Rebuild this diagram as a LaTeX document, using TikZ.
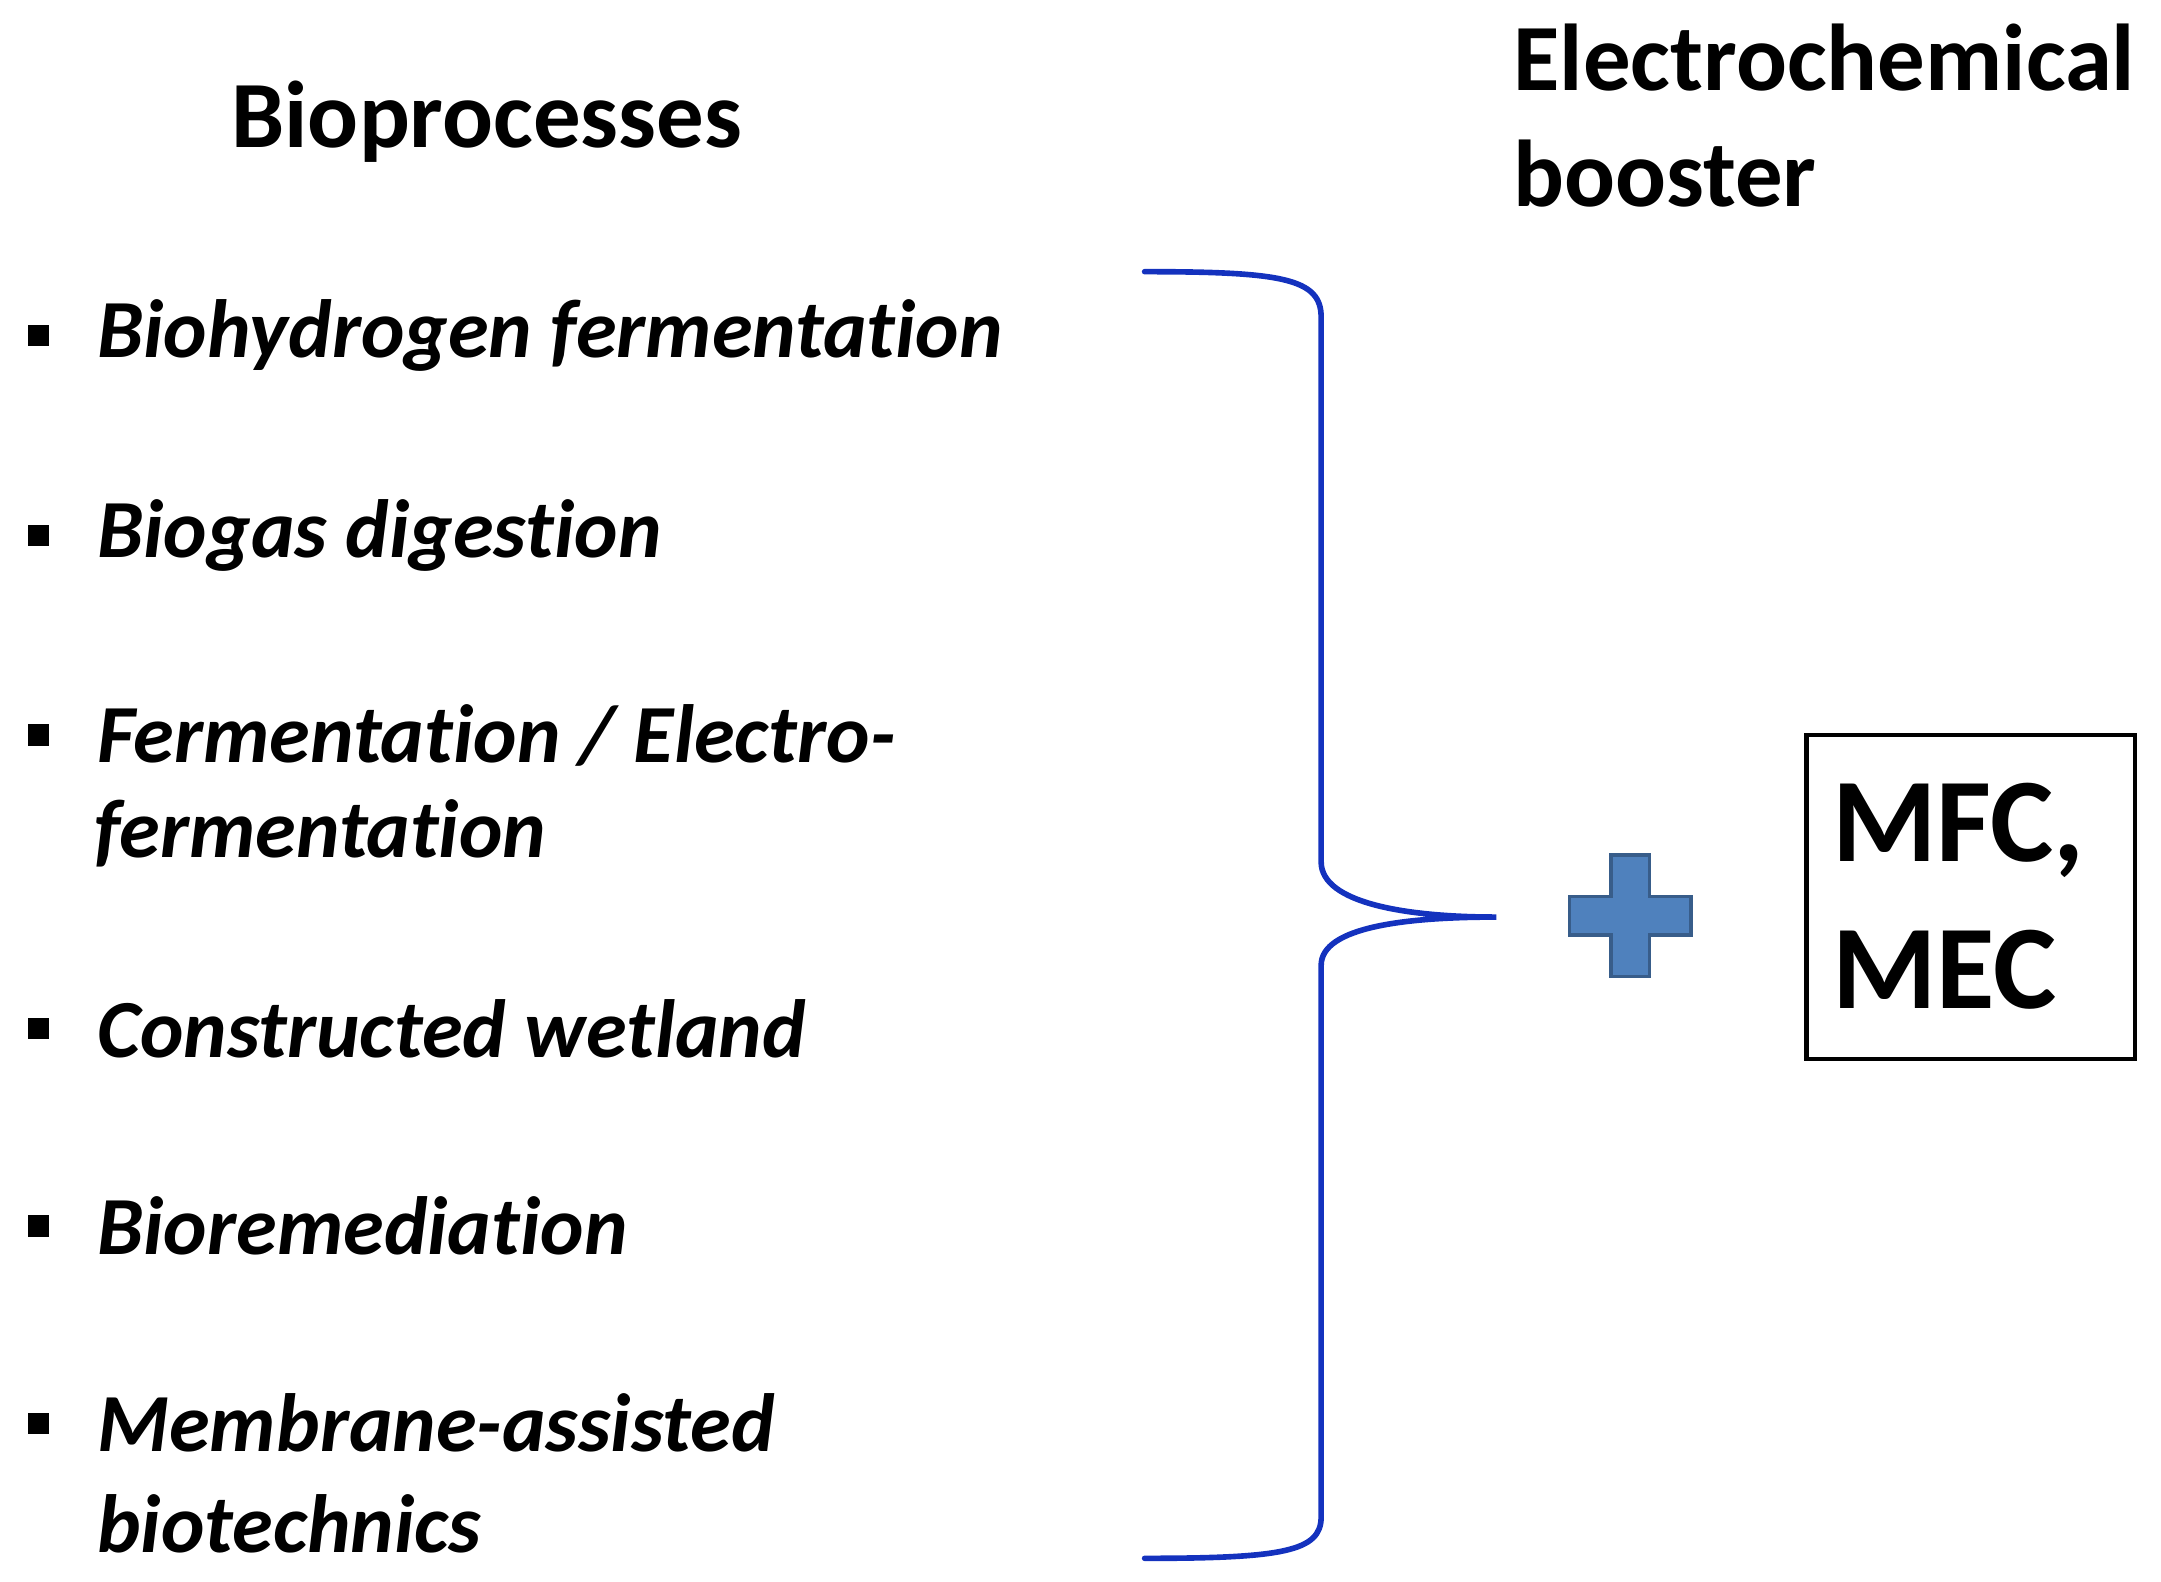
\documentclass[tikz,border=0pt]{standalone}
\usepackage{fontspec}
\setmainfont{Carlito}[Ligatures=NoCommon]
\usetikzlibrary{positioning}
\definecolor{braceblue}{RGB}{20,50,190}
\definecolor{plusblue}{RGB}{79,129,189}
\definecolor{plusedge}{RGB}{56,93,138}
\tikzset{
  item/.style={anchor=west, inner sep=0pt, font=\fontsize{23.5}{28}\selectfont\bfseries\itshape, align=left},
  bullet/.style={fill=black, minimum size=6pt, inner sep=0pt},
  title/.style={inner sep=0pt, font=\fontsize{27}{33}\selectfont\bfseries, align=left}
}
\begin{document}
\begin{tikzpicture}[x=1.379cm, y=-1.379cm, line cap=round]
		\useasboundingbox (0,0) rectangle (15.67,11.465);
		
		% Titles
		\node[title] (bio) at (3.53,0.88) {Bioprocesses};
		\node[title, anchor=west] (ec) at (10.97,0.84) {Electrochemical\\booster};
		
		% Items
		\foreach \y/\name/\txt in {2.43/i1/{Biohydrogen fermentation},
			3.88/i2/{Biogas digestion},
			5.33/i3/{Fermentation {/} Electro-},
			7.46/i4/{Constructed wetland},
			8.89/i5/{Bioremediation},
			10.32/i6/{Membrane-assisted}}
		{
			\node[bullet] (b\name) at (0.28,\y) {};
			\node[item] (\name) at (0.70,\y) {\txt};
		}
		\node[item] (i3b) at (0.68,6.04) {fermentation};
		\node[item] (i6b) at (0.70,11.05) {biotechnics};
		
		% Brace
		\coordinate (top) at (8.30,1.97);
		\coordinate (tip) at (10.85,6.65);
		\coordinate (bot) at (8.30,11.30);
		\draw[braceblue, line width=1.6pt] (top)
			.. controls (9.30,1.97) and (9.58,2.02) .. (9.58,2.30)
			-- (9.58,6.25)
			.. controls (9.58,6.55) and (10.20,6.65) .. (tip)
			.. controls (10.20,6.65) and (9.58,6.72) .. (9.58,7.00)
			-- (9.58,11.00)
			.. controls (9.58,11.25) and (9.30,11.30) .. (bot);
		
		% Plus
		\draw[fill=plusblue, draw=plusedge, line width=1pt]
			(11.68,6.20) -- (11.96,6.20) -- (11.96,6.50) -- (12.26,6.50) -- (12.26,6.78)
			-- (11.96,6.78) -- (11.96,7.08) -- (11.68,7.08) -- (11.68,6.78) -- (11.38,6.78)
			-- (11.38,6.50) -- (11.68,6.50) -- cycle;
		
		% Box
		\draw[line width=1.2pt] (13.10,5.33) rectangle (15.48,7.68);
		\node[anchor=west, inner sep=0pt, font=\fontsize{34}{42}\selectfont\bfseries, align=left]
			(mfc) at (13.28,6.50) {MFC,\\MEC};
	\end{tikzpicture}
\end{document}
